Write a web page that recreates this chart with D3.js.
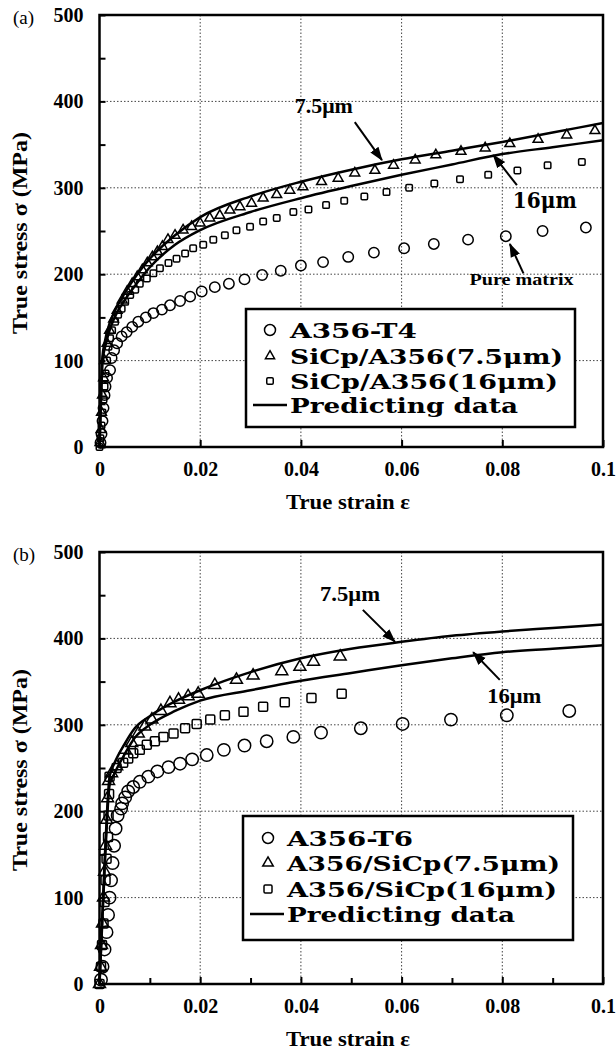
<!DOCTYPE html>
<html lang="en">
<head>
<meta charset="UTF-8">
<script src="https://cdn.jsdelivr.net/npm/d3@7"></script>
<style>
  body { margin:0; background:#fff; }
  svg { display:block; background:#fff; }
  .tick text { font-family:"Liberation Serif", serif; font-weight:bold; font-size:20px; fill:#000; }
  .tick line { stroke:#000; stroke-width:2; }
  .grid line { stroke:#444; stroke-width:1; stroke-dasharray:1.5,2; }
  .frame { fill:none; stroke:#000; stroke-width:2.5; }
  .pred { fill:none; stroke:#000; stroke-width:2.5; }
  .mark { fill:none; stroke:#000; stroke-width:1.5; }
  .lbl { font-family:"Liberation Serif", serif; font-weight:bold; fill:#000; }
  .leg { font-family:"DejaVu Serif", serif; font-weight:bold; font-size:21px; fill:#000; }
</style>
</head>
<body>
<svg width="616" height="1058"></svg>
<script>
// axis ticks
var xTicks = [0, 0.02, 0.04, 0.06, 0.08, 0.1];
var xTickLabels = ["0", "0.02", "0.04", "0.06", "0.08", "0.1"];
var xMinor = [0.01, 0.03, 0.05, 0.07, 0.09];
var yTicks = [0, 100, 200, 300, 400, 500];
var yMinor = [50, 150, 250, 350, 450];

// (a) [true strain, true stress MPa]
var a_T4 = [[0.0002,5],[0.0004,15],[0.0006,30],[0.0008,45],[0.0010,60],[0.0012,70],[0.0015,80],
  [0.0021,89],[0.0024,103],[0.0029,112],[0.0035,120],[0.0044,128],[0.0054,133],[0.0065,139],
  [0.0077,145],[0.0092,150],[0.0107,155],[0.0124,159],[0.0140,164],[0.0160,169],[0.0180,174],
  [0.0203,180],[0.0229,185],[0.0257,189],[0.0288,194],[0.0323,199],[0.0360,204],[0.0400,210],
  [0.0444,214],[0.0494,220],[0.0545,225],[0.0605,230],[0.0664,235],[0.0732,240],[0.0807,244],
  [0.0880,250],[0.0966,254]];
var a_SiC75 = [[0.0001,5],[0.0003,20],[0.0004,40],[0.0006,60],[0.0008,80],[0.0010,100],[0.0015,120],
  [0.0020,135],[0.0028,148],[0.0035,158],[0.0045,170],[0.0055,180],[0.0065,189],[0.0075,197],
  [0.0085,205],[0.0095,213],[0.0105,220],[0.0115,226],[0.0125,232],[0.0136,240],[0.0150,245],
  [0.0166,251],[0.0183,255],[0.0200,259],[0.0219,265],[0.0239,268],[0.0259,274],[0.0279,278],
  [0.0302,282],[0.0325,288],[0.0352,292],[0.0378,297],[0.0404,301],[0.0441,307],[0.0474,311],
  [0.0507,317],[0.0547,320],[0.0584,326],[0.0627,332],[0.0668,338],[0.0718,342],[0.0766,346],
  [0.0815,351],[0.0871,356],[0.0928,361],[0.0984,366]];
var a_SiC16 = [[0,0],[0.0002,10],[0.0004,25],[0.0006,40],[0.0008,55],[0.0010,70],[0.0012,85],
  [0.0015,100],[0.0018,116],[0.0021,126],[0.0025,135],[0.0031,145],[0.0037,153],[0.0044,160],
  [0.0051,168],[0.0061,176],[0.0071,182],[0.0080,189],[0.0094,195],[0.0107,201],[0.0120,207],
  [0.0137,213],[0.0153,218],[0.0170,224],[0.0186,230],[0.0206,234],[0.0226,240],[0.0249,245],
  [0.0272,251],[0.0299,255],[0.0325,261],[0.0352,265],[0.0385,272],[0.0415,275],[0.0450,280],
  [0.0486,285],[0.0526,290],[0.0570,295],[0.0615,300],[0.0665,305],[0.0716,310],[0.0772,315],
  [0.0830,320],[0.0890,326],[0.0958,330]];
var a_predStrain = [0,0.0003,0.0006,0.001,0.002,0.003,0.005,0.0075,0.01,0.015,0.02,0.03,0.04,0.05,0.06,0.07,0.08,0.09,0.1];
var a_pred75 = [0,60,105,120,143,157,178,200,218,245,266,290,307,321,333,343,353,364,375];
var a_pred16 = [0,55,100,113,135,150,170,190,208,234,251,272,288,302,315,327,339,347,355];

// (b)
var b_T6 = [[0.0003,5],[0.0006,20],[0.0010,40],[0.0014,60],[0.0017,80],[0.0020,100],[0.0023,120],
  [0.0026,140],[0.0029,160],[0.0032,180],[0.0036,195],[0.0043,203],[0.0045,209],[0.0051,216],
  [0.0057,223],[0.0067,228],[0.0080,234],[0.0097,240],[0.0115,246],[0.0137,251],[0.0160,255],
  [0.0184,260],[0.0213,265],[0.0247,271],[0.0288,276],[0.0332,281],[0.0385,286],[0.0440,291],
  [0.0519,296],[0.0602,301],[0.0698,306],[0.0809,311],[0.0933,316]];
var b_SiC75 = [[0,0],[0.0002,20],[0.0004,45],[0.0006,70],[0.0008,100],[0.0010,130],[0.0012,160],
  [0.0014,190],[0.0016,215],[0.0018,235],[0.0024,244],[0.0034,252],[0.0051,271],[0.0064,279],
  [0.0077,290],[0.0090,298],[0.0104,306],[0.0122,316],[0.0140,325],[0.0157,329],[0.0176,333],
  [0.0196,336],[0.0229,346],[0.0272,352],[0.0305,357],[0.0362,362],[0.0398,367],[0.0425,373],
  [0.0478,379]];
var b_SiC16 = [[0,0],[0.0003,20],[0.0005,45],[0.0008,70],[0.0010,95],[0.0012,120],[0.0014,145],
  [0.0017,170],[0.0018,195],[0.0019,220],[0.0020,240],[0.0034,250],[0.0047,256],[0.0057,261],
  [0.0067,267],[0.0080,271],[0.0094,277],[0.0110,281],[0.0127,286],[0.0147,290],[0.0170,296],
  [0.0193,301],[0.0220,306],[0.0249,311],[0.0286,315],[0.0325,321],[0.0368,326],[0.0421,331],
  [0.0481,336]];
var b_predStrain = [0,0.0005,0.001,0.0015,0.002,0.003,0.005,0.007,0.01,0.015,0.02,0.03,0.04,0.05,0.06,0.07,0.08,0.09,0.1];
var b_pred75 = [0,70,140,200,240,256,278,296,310,327,340,361,377,388,396,403,408,412,416];
var b_pred16 = [0,65,130,190,230,244,266,285,300,316,328,340,351,360,369,377,384,388,392];

var a_legend = ["A356-T4", "SiCp/A356(7.5\u03bcm)", "SiCp/A356(16\u03bcm)", "Predicting data"];
var b_legend = ["A356-T6", "A356/SiCp(7.5\u03bcm)", "A356/SiCp(16\u03bcm)", "Predicting data"];

var svg = d3.select("svg");

svg.append("defs").append("marker")
  .attr("id", "arrow")
  .attr("viewBox", "0 0 14 12")
  .attr("refX", 13).attr("refY", 6)
  .attr("markerWidth", 14).attr("markerHeight", 12)
  .attr("markerUnits", "userSpaceOnUse")
  .attr("orient", "auto")
  .append("path").attr("d", "M0,1 L14,6 L0,11 Z").attr("fill", "#000");

var panels = [
  { tag:"(a)", top:15, bottom:447, circles:a_T4, tris:a_SiC75, squares:a_SiC16,
    predStrain:a_predStrain, pred75:a_pred75, pred16:a_pred16, minorX:false,
    r:5.2, tri:42, sq:6.5, legend:a_legend,
    box:[246,309,575,427], rows:[330,356,381,405], textX:290, markX:270, lineX:[253,287],
    lens:[127,273,268,228], legR:5.5, legTri:36, legSq:6.5,
    notes:[{t:"7.5\u03bcm", x:0.0388, y:386, size:20, len:58},
           {t:"16\u03bcm", x:0.0821, y:277, size:22, len:64, dv:true},
           {t:"Pure matrix", x:0.0735, y:187, size:17, len:104}],
    arrows:[[0.0507,376,0.0561,332],[0.0829,303,0.0782,338],[0.0842,201,0.0815,235]] },
  { tag:"(b)", top:552, bottom:984, circles:b_T6, tris:b_SiC75, squares:b_SiC16,
    predStrain:b_predStrain, pred75:b_pred75, pred16:b_pred16, minorX:true,
    r:6.2, tri:62, sq:9, legend:b_legend,
    box:[243,816,573,940], rows:[838,863,889,914], textX:287, markX:268, lineX:[250,284],
    lens:[126,273,270,228], legR:5.5, legTri:48, legSq:8,
    notes:[{t:"7.5\u03bcm", x:0.0438, y:443, size:20, len:60},
           {t:"16\u03bcm", x:0.0770, y:325, size:20, len:54}],
    arrows:[[0.0523,433,0.0587,396],[0.0795,352,0.0742,384]] }
];

panels.forEach(function(p) {
  var x = d3.scaleLinear().domain([0, 0.1]).range([99.5, 603]);
  var y = d3.scaleLinear().domain([0, 500]).range([p.bottom, p.top]);
  var g = svg.append("g");

  // dotted grid
  var grid = g.append("g").attr("class", "grid");
  grid.selectAll(".gx").data(xTicks.slice(1, -1)).enter().append("line")
    .attr("x1", function(d){ return x(d); }).attr("x2", function(d){ return x(d); })
    .attr("y1", y(0)).attr("y2", y(500));
  grid.selectAll(".gy").data(yTicks.slice(1, -1)).enter().append("line")
    .attr("y1", function(d){ return y(d); }).attr("y2", function(d){ return y(d); })
    .attr("x1", x(0)).attr("x2", x(0.1));

  // axes, ticks pointing inward
  var yAxis = d3.axisLeft(y).tickValues(yTicks).tickSize(-6).tickPadding(16)
    .tickFormat(function(d){ return String(d); });
  g.append("g").attr("transform", "translate(" + x(0) + ",0)").call(yAxis)
    .call(function(s){ s.select(".domain").remove(); });
  g.append("g").attr("transform", "translate(" + x(0) + ",0)")
    .call(d3.axisLeft(y).tickValues(yMinor).tickSize(-6).tickFormat(""))
    .call(function(s){ s.select(".domain").remove(); });

  var xAxis = d3.axisBottom(x).tickValues(xTicks).tickSize(-7).tickPadding(15)
    .tickFormat(function(d, i){ return xTickLabels[i]; });
  g.append("g").attr("transform", "translate(0," + y(0) + ")").call(xAxis)
    .call(function(s){ s.select(".domain").remove(); });
  if (p.minorX) {
    g.append("g").attr("transform", "translate(0," + y(0) + ")")
      .call(d3.axisBottom(x).tickValues(xMinor).tickSize(-6).tickFormat(""))
      .call(function(s){ s.select(".domain").remove(); });
  }

  g.append("rect").attr("class", "frame")
    .attr("x", x(0)).attr("y", y(500))
    .attr("width", x(0.1) - x(0)).attr("height", y(0) - y(500));

  // predicted curves
  var line = d3.line()
    .x(function(d, i){ return x(p.predStrain[i]); })
    .y(function(d){ return y(d); })
    .curve(d3.curveMonotoneX);
  g.append("path").attr("class", "pred").attr("d", line(p.pred75));
  g.append("path").attr("class", "pred").attr("d", line(p.pred16));

  // experimental points
  g.selectAll(".c").data(p.circles).enter().append("circle").attr("class", "mark")
    .attr("cx", function(d){ return x(d[0]); }).attr("cy", function(d){ return y(d[1]); })
    .attr("r", p.r);
  var tri = d3.symbol().type(d3.symbolTriangle).size(p.tri);
  g.selectAll(".t").data(p.tris).enter().append("path").attr("class", "mark")
    .attr("d", tri)
    .attr("transform", function(d){ return "translate(" + x(d[0]) + "," + y(d[1]) + ")"; });
  g.selectAll(".s").data(p.squares).enter().append("rect").attr("class", "mark")
    .attr("x", function(d){ return x(d[0]) - p.sq / 2; })
    .attr("y", function(d){ return y(d[1]) - p.sq / 2; })
    .attr("width", p.sq).attr("height", p.sq).attr("rx", 1.2);

  // annotations
  p.notes.forEach(function(n) {
    g.append("text").attr("class", "lbl")
      .attr("x", x(n.x)).attr("y", y(n.y))
      .style("font-family", n.dv ? "'DejaVu Serif', serif" : null)
      .style("font-size", n.size + "px")
      .attr("textLength", n.len).attr("lengthAdjust", "spacingAndGlyphs")
      .text(n.t);
  });
  g.selectAll(".arr").data(p.arrows).enter().append("line")
    .attr("x1", function(d){ return x(d[0]); }).attr("y1", function(d){ return y(d[1]); })
    .attr("x2", function(d){ return x(d[2]); }).attr("y2", function(d){ return y(d[3]); })
    .attr("stroke", "#000").attr("stroke-width", 2)
    .attr("marker-end", "url(#arrow)");

  // legend
  var b = p.box;
  g.append("rect").attr("x", b[0]).attr("y", b[1])
    .attr("width", b[2] - b[0]).attr("height", b[3] - b[1])
    .attr("fill", "#fff").attr("stroke", "#000").attr("stroke-width", 2.5);
  g.append("circle").attr("class", "mark").attr("cx", p.markX).attr("cy", p.rows[0]).attr("r", p.legR);
  g.append("path").attr("class", "mark").attr("d", d3.symbol().type(d3.symbolTriangle).size(p.legTri))
    .attr("transform", "translate(" + p.markX + "," + p.rows[1] + ")");
  g.append("rect").attr("class", "mark").attr("x", p.markX - p.legSq / 2).attr("y", p.rows[2] - p.legSq / 2)
    .attr("width", p.legSq).attr("height", p.legSq).attr("rx", 1.2);
  g.append("line").attr("x1", p.lineX[0]).attr("x2", p.lineX[1])
    .attr("y1", p.rows[3]).attr("y2", p.rows[3]).attr("stroke", "#000").attr("stroke-width", 2.5);
  p.legend.forEach(function(t, i) {
    g.append("text").attr("class", "leg")
      .attr("x", p.textX).attr("y", p.rows[i]).attr("dy", "0.38em")
      .attr("textLength", p.lens[i]).attr("lengthAdjust", "spacingAndGlyphs")
      .text(t);
  });

  // titles
  g.append("text").attr("class", "lbl")
    .attr("x", 13).attr("y", p.top + 9)
    .style("font-weight", "normal").style("font-size", "19px")
    .text(p.tag);
  g.append("text").attr("class", "lbl")
    .attr("transform", "translate(20," + (y(250) + 2) + ") rotate(-90)")
    .attr("text-anchor", "middle").attr("dy", "0.35em")
    .style("font-size", "20px")
    .attr("textLength", 202).attr("lengthAdjust", "spacingAndGlyphs")
    .text("True stress \u03c3  (MPa)");
  g.append("text").attr("class", "lbl")
    .attr("x", 348).attr("y", y(0) + 62)
    .attr("text-anchor", "middle")
    .style("font-size", "20px")
    .attr("textLength", 124).attr("lengthAdjust", "spacingAndGlyphs")
    .text("True strain  \u03b5");
});
</script>
</body>
</html>
